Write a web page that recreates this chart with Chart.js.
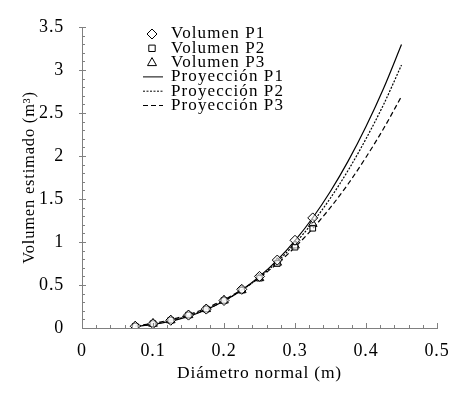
<!DOCTYPE html>
<html lang="es">
<head>
  <meta charset="UTF-8" />
  <title>Volumen estimado</title>
  <script src="https://cdn.jsdelivr.net/npm/chart.js"></script>
  <style>
    body { margin: 0; background: #fff; }
    .wrap { width: 472px; height: 398px; }
  </style>
</head>
<body>
  <div class="wrap"><canvas id="volChart" width="472" height="398"></canvas></div>
  <script>
    // diametros observados (m)
    const diametros = [0.075, 0.1, 0.125, 0.15, 0.175, 0.2, 0.225, 0.25, 0.275, 0.3, 0.325];
    const volP1 = [0.02, 0.05, 0.09, 0.15, 0.22, 0.32, 0.45, 0.60, 0.79, 1.02, 1.28];
    const volP2 = [0.02, 0.05, 0.09, 0.15, 0.22, 0.32, 0.44, 0.58, 0.75, 0.94, 1.16];
    const volP3 = [0.02, 0.05, 0.09, 0.15, 0.22, 0.32, 0.44, 0.58, 0.76, 0.96, 1.21];

    // proyecciones
    const diamProy = [0.075, 0.1, 0.125, 0.15, 0.175, 0.2, 0.225, 0.25, 0.275, 0.3, 0.325, 0.35, 0.375, 0.4, 0.425, 0.45];
    const proyP1 = [0.018, 0.042, 0.080, 0.136, 0.213, 0.314, 0.442, 0.600, 0.790, 1.017, 1.282, 1.590, 1.943, 2.343, 2.791, 3.296];
    const proyP2 = [0.020, 0.045, 0.085, 0.141, 0.217, 0.316, 0.438, 0.590, 0.770, 0.983, 1.229, 1.512, 1.835, 2.200, 2.603, 3.058];
    const proyP3 = [0.026, 0.054, 0.097, 0.155, 0.231, 0.328, 0.444, 0.585, 0.749, 0.940, 1.157, 1.402, 1.677, 1.986, 2.322, 2.694];

    const FONT = "'Liberation Serif', 'DejaVu Serif', serif";
    const pts = (xs, ys) => xs.map((x, i) => ({ x: x, y: ys[i] }));

    function marker(label, data, style, r) {
      return {
        type: 'scatter', label: label, data: data, showLine: false,
        pointStyle: style, pointRadius: r, pointBorderWidth: 1,
        pointBorderColor: '#000', pointBackgroundColor: 'rgba(255,255,255,0.6)'
      };
    }
    function proy(label, data, dash) {
      return {
        type: 'line', label: label, data: data, borderColor: '#000',
        borderWidth: 1.2, borderDash: dash, pointRadius: 0,
        cubicInterpolationMode: 'monotone', fill: false
      };
    }

    // texto algo mas ancho, como la tipografia del original
    const espaciado = {
      id: 'espaciado',
      beforeDraw(chart) { chart.ctx.letterSpacing = '0.8px'; }
    };

    // marcas de los ejes hacia dentro, con menores
    const marcas = {
      id: 'marcas',
      afterDraw(chart) {
        const ctx = chart.ctx, xs = chart.scales.x, ys = chart.scales.y;
        const x0 = xs.getPixelForValue(0), y0 = ys.getPixelForValue(0);
        ctx.save();
        ctx.strokeStyle = '#808080';
        ctx.lineWidth = 1;
        ctx.beginPath();
        for (let i = 1; i <= 25; i++) {
          const px = Math.round(xs.getPixelForValue(i * 0.02)) + 0.5;
          ctx.moveTo(px, y0); ctx.lineTo(px, y0 - (i % 5 === 0 ? 5 : 3));
        }
        for (let i = 1; i <= 35; i++) {
          const py = Math.round(ys.getPixelForValue(i * 0.1)) + 0.5;
          const major = i % 5 === 0;
          ctx.moveTo(x0 - (major ? 3 : 0), py); ctx.lineTo(x0 + (major ? 4 : 3), py);
        }
        ctx.stroke();
        ctx.restore();
      }
    };

    // leyenda dibujada a mano, dentro del area del grafico
    const leyenda = {
      id: 'leyenda',
      afterDraw(chart) {
        const ctx = chart.ctx;
        ctx.save();
        ctx.font = '17px ' + FONT;
        ctx.letterSpacing = '1.1px';
        ctx.fillStyle = '#000';
        ctx.textBaseline = 'middle';
        chart.data.datasets.forEach((ds, i) => {
          const y = 34 + i * 14.3;
          ctx.strokeStyle = '#000';
          ctx.lineWidth = 1;
          if (ds.type === 'scatter') {
            const cx = 152, r = ds.pointRadius;
            ctx.beginPath();
            if (ds.pointStyle === 'rectRot') {
              ctx.moveTo(cx, y - r); ctx.lineTo(cx + r, y); ctx.lineTo(cx, y + r); ctx.lineTo(cx - r, y); ctx.closePath();
            } else if (ds.pointStyle === 'rect') {
              ctx.rect(cx - r * 0.8, y - r * 0.8, r * 1.6, r * 1.6);
            } else {
              ctx.moveTo(cx, y - r); ctx.lineTo(cx + r * 0.9, y + r * 0.6); ctx.lineTo(cx - r * 0.9, y + r * 0.6); ctx.closePath();
            }
            ctx.stroke();
          } else {
            ctx.setLineDash(ds.borderDash || []);
            ctx.beginPath();
            ctx.moveTo(143, y); ctx.lineTo(163, y);
            ctx.stroke();
            ctx.setLineDash([]);
          }
          ctx.fillText(ds.label, 171, y);
        });
        ctx.restore();
      }
    };

    new Chart(document.getElementById('volChart').getContext('2d'), {
      data: {
        datasets: [
          marker('Volumen P1', pts(diametros, volP1), 'rectRot', 5),
          marker('Volumen P2', pts(diametros, volP2), 'rect', 4),
          marker('Volumen P3', pts(diametros, volP3), 'triangle', 5),
          proy('Proyección P1', pts(diamProy, proyP1), []),
          proy('Proyección P2', pts(diamProy, proyP2), [2, 1.5]),
          proy('Proyección P3', pts(diamProy, proyP3), [5, 3])
        ]
      },
      options: {
        responsive: false,
        animation: false,
        layout: { padding: { left: 0, top: 27, right: 35, bottom: 0 } },
        plugins: { legend: { display: false }, tooltip: { enabled: false } },
        scales: {
          x: {
            type: 'linear', min: 0, max: 0.5,
            afterFit(s) { s.height = 70; },
            ticks: { stepSize: 0.1, maxRotation: 0, color: '#000', padding: 4, font: { family: FONT, size: 18 },
              callback: v => String(+v.toFixed(1)) },
            grid: { display: false },
            border: { color: '#808080' },
            title: { display: true, text: 'Diámetro normal (m)', color: '#000', font: { family: FONT, size: 17.5 }, padding: { bottom: 14 } }
          },
          y: {
            type: 'linear', min: 0, max: 3.5,
            afterFit(s) { s.width = 82; },
            ticks: { stepSize: 0.5, color: '#000', padding: 10, font: { family: FONT, size: 18 },
              callback: v => String(+v.toFixed(1)) },
            grid: { display: false },
            border: { color: '#808080' },
            title: { display: true, text: 'Volumen estimado (m³)', color: '#000', font: { family: FONT, size: 16.5 }, padding: { top: 20 } }
          }
        }
      },
      plugins: [espaciado, marcas, leyenda]
    });
  </script>
</body>
</html>
